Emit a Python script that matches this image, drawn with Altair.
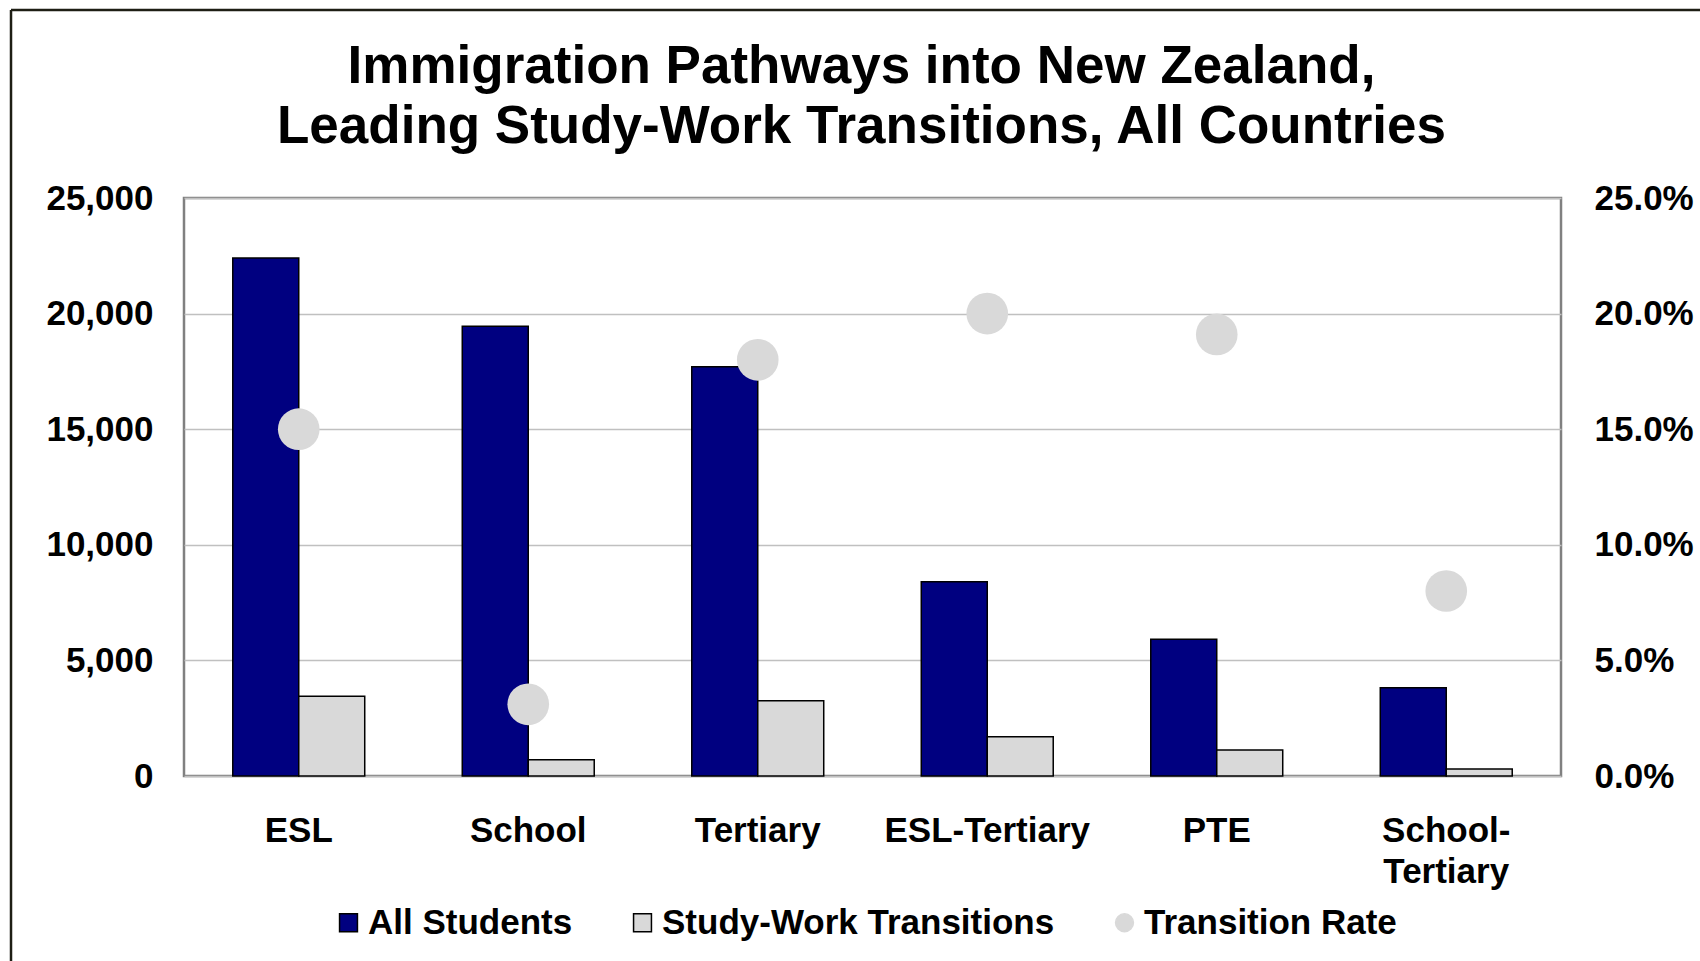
import altair as alt
import pandas as pd

categories = ["ESL", "School", "Tertiary", "ESL-Tertiary", "PTE", "School-Tertiary"]
all_students = [22400, 19450, 17700, 8400, 5920, 3820]
transitions = [3450, 700, 3250, 1700, 1120, 300]
rates = [0.150, 0.031, 0.180, 0.200, 0.191, 0.080]

series_names = ["All Students", "Study-Work Transitions", "Transition Rate"]
fill_colors = ["#000080", "#d9d9d9", "#d9d9d9"]
stroke_colors = ["#000000", "#000000", "#d9d9d9"]
shapes = ["square", "square", "circle"]

left_ticks = [0, 5000, 10000, 15000, 20000, 25000]
right_ticks = [0, 0.05, 0.10, 0.15, 0.20, 0.25]

title_lines = ["Immigration Pathways into New Zealand,",
               "Leading Study-Work Transitions, All Countries"]

bars_df = pd.DataFrame({
    "category": categories * 2,
    "series": [series_names[0]] * len(categories) + [series_names[1]] * len(categories),
    "value": all_students + transitions,
})
rate_df = pd.DataFrame({
    "category": categories,
    "series": [series_names[2]] * len(categories),
    "rate": rates,
})
frame_df = pd.DataFrame({"k": [0]})

FONT = "Liberation Sans"
W, H = 1377, 578
PL, PT = 184, 198

color_scale = alt.Scale(domain=series_names, range=fill_colors)
stroke_scale = alt.Scale(domain=series_names, range=stroke_colors)
shape_scale = alt.Scale(domain=series_names, range=shapes)

legend = alt.Legend(
    title=None, orient="none", legendX=147, legendY=707, direction="horizontal",
    labelFont=FONT, labelFontSize=35, labelFontWeight="bold", labelColor="black",
    labelLimit=0, symbolSize=320, symbolStrokeWidth=1.5, columnPadding=52,
    labelOffset=2, padding=0,
)

x_axis = alt.Axis(
    title=None, labelAngle=0, labelPadding=37, ticks=False, domain=False,
    labelFont=FONT, labelFontSize=35, labelFontWeight="bold", labelColor="black",
    labelLineHeight=41, labelLimit=0,
    labelExpr="datum.label == 'School-Tertiary' ? ['School-', 'Tertiary'] : datum.label",
)
x_enc = alt.X("category:N", sort=categories,
              scale=alt.Scale(paddingInner=0.425, paddingOuter=0.2125), axis=x_axis)

bars = alt.Chart(bars_df).mark_bar(strokeWidth=1.5).encode(
    x=x_enc,
    xOffset=alt.XOffset("series:N", sort=series_names[:2],
                        scale=alt.Scale(paddingInner=0, paddingOuter=0)),
    y=alt.Y("value:Q", scale=alt.Scale(domain=[0, 25000], nice=False),
            axis=alt.Axis(title=None, orient="left", values=left_ticks, format=",.0f",
                          grid=True, gridColor="#c0c0c0", gridWidth=1.5,
                          ticks=False, domain=False, labelPadding=31,
                          labelFont=FONT, labelFontSize=35, labelFontWeight="bold",
                          labelColor="black")),
    color=alt.Color("series:N", scale=color_scale, legend=legend),
    stroke=alt.Stroke("series:N", scale=stroke_scale, legend=legend),
)

points = alt.Chart(rate_df).mark_point(filled=True, size=1735, opacity=1, strokeWidth=0).encode(
    x=alt.X("category:N", sort=categories),
    y=alt.Y("rate:Q", scale=alt.Scale(domain=[0, 0.25], nice=False),
            axis=alt.Axis(title=None, orient="right", values=right_ticks, format=".1%",
                          grid=False, ticks=False, domain=False, labelPadding=33,
                          labelFont=FONT, labelFontSize=35, labelFontWeight="bold",
                          labelColor="black")),
    color=alt.Color("series:N", scale=color_scale, legend=legend),
    stroke=alt.Stroke("series:N", scale=stroke_scale, legend=legend),
    shape=alt.Shape("series:N", scale=shape_scale, legend=legend),
)

frame_top = alt.Chart(frame_df).mark_rule(color="#1e1e14", strokeWidth=2.5).encode(
    x=alt.value(11 - PL), x2=alt.value(1700 - PL), y=alt.value(10 - PT))
frame_left = alt.Chart(frame_df).mark_rule(color="#1e1e14", strokeWidth=2.5).encode(
    x=alt.value(11 - PL), y=alt.value(10 - PT), y2=alt.value(961 - PT))

chart = alt.layer(bars, points, frame_top, frame_left).resolve_scale(
    y="independent"
).properties(
    width=W, height=H,
    view=alt.ViewBackground(stroke="#808080", strokeWidth=2.5),
    title=alt.TitleParams(text=title_lines, font=FONT, fontSize=53, fontWeight="bold",
                          color="black", lineHeight=60, anchor="middle", dx=-11,
                          offset=-145),
    autosize=alt.AutoSizeParams(type="none"),
    padding={"left": PL, "top": PT, "right": 1700 - PL - W, "bottom": 961 - PT - H},
).configure_view(
    stroke="#808080", strokeWidth=2.5
).configure(background="white")

chart.save("out.html", embed_options={"renderer": "svg", "actions": False})
